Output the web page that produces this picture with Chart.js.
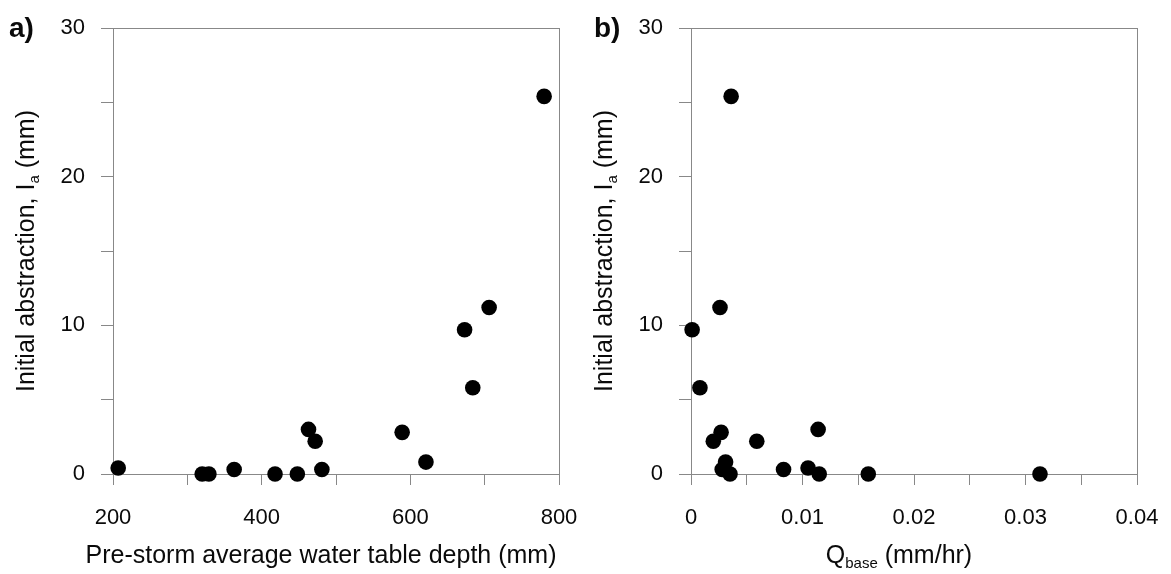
<!DOCTYPE html>
<html>
<head>
<meta charset="utf-8">
<script src="https://cdn.jsdelivr.net/npm/chart.js@4.4.0/dist/chart.umd.min.js"></script>
<style>
  html, body { margin: 0; padding: 0; background: #fff; }
  #wrap { position: relative; width: 1171px; height: 574px; overflow: hidden; }
  canvas { position: absolute; top: 0; }
</style>
</head>
<body>
<div id="wrap">
  <canvas id="ca" width="585" height="574" style="left:0px"></canvas>
  <canvas id="cb" width="586" height="574" style="left:585px"></canvas>
</div>
<script>
// ---- Data (panel a) ----
const depthA = [207, 320, 329, 363, 418, 448, 463, 472, 481, 589, 621, 673, 684, 706, 780];
const iaA    = [0.4, 0,   0,   0.3, 0,   0,   3.0, 2.2, 0.3, 2.8, 0.8, 9.7, 5.8, 11.2, 25.4];
// ---- Data (panel b) ----
const qbaseB = [0.0001, 0.0008, 0.0020, 0.0026, 0.0027, 0.0028, 0.0031, 0.0035, 0.0036, 0.0059, 0.0083, 0.0105, 0.0114, 0.0115, 0.0159, 0.0313];
const iaB    = [9.7,    5.8,    2.2,    11.2,   2.8,    0.3,    0.8,    0,      25.4,   2.2,    0.3,    0.4,    3.0,    0,      0,      0];
// ---- Tick labels ----
const yTickLabels  = [0, 10, 20, 30];
const xTickLabelsA = [200, 400, 600, 800];
const xTickLabelsB = [0, 0.01, 0.02, 0.03, 0.04];

const AXIS = '#888888';
const TXT = '#0a0a0a';
const FONT = '"Liberation Sans", Arial, Helvetica, sans-serif';

function pts(xs, ys) { return xs.map((x, i) => ({ x: x, y: ys[i] })); }
function near(v, list) { return list.some(t => Math.abs(t - v) < 1e-7); }

function drawRich(ctx, parts, cx, cy, rotate) {
  ctx.save();
  ctx.translate(cx, cy);
  if (rotate) ctx.rotate(-Math.PI / 2);
  ctx.textBaseline = 'alphabetic';
  ctx.fillStyle = TXT;
  let total = 0;
  parts.forEach(p => { ctx.font = (p.bold ? 'bold ' : '') + p.size + 'px ' + FONT; p.w = ctx.measureText(p.t).width; total += p.w; });
  let x = -total / 2;
  parts.forEach(p => {
    ctx.font = (p.bold ? 'bold ' : '') + p.size + 'px ' + FONT;
    ctx.textAlign = 'left';
    ctx.fillText(p.t, x, p.dy);
    x += p.w;
  });
  ctx.restore();
}

function makeChart(id, data, xmin, xmax, xstep, xLabels, yAxisWidth, rightPad, letter, xTitleParts, yTitleX) {
  const framePlugin = {
    id: 'frame_' + id,
    beforeDatasetsDraw(chart) {
      const a = chart.chartArea, ctx = chart.ctx;
      ctx.save();
      ctx.strokeStyle = AXIS;
      ctx.lineWidth = 1;
      ctx.strokeRect(Math.round(a.left) + 0.5, Math.round(a.top) + 0.5, Math.round(a.right - a.left), Math.round(a.bottom - a.top));
      ctx.restore();
    },
    afterDraw(chart) {
      const a = chart.chartArea, ctx = chart.ctx;
      const cx = (a.left + a.right) / 2 - 15;
      drawRich(ctx, xTitleParts, cx, 563, false);
      drawRich(ctx, [
        { t: 'Initial abstraction, I', size: 25, dy: 0 },
        { t: 'a', size: 15, dy: 5 },
        { t: ' (mm)', size: 25, dy: 0 }
      ], yTitleX, (a.top + a.bottom) / 2, true);
      ctx.save();
      ctx.font = 'bold 28px ' + FONT;
      ctx.fillStyle = TXT;
      ctx.textAlign = 'left';
      ctx.textBaseline = 'alphabetic';
      ctx.fillText(letter, 9, 37);
      ctx.restore();
    }
  };
  return new Chart(document.getElementById(id), {
    type: 'scatter',
    data: {
      datasets: [{
        data: data,
        backgroundColor: '#000',
        borderColor: '#000',
        borderWidth: 0,
        pointRadius: 7.8,
        pointHoverRadius: 7.8,
        clip: false
      }]
    },
    options: {
      responsive: false,
      animation: false,
      devicePixelRatio: 1,
      layout: { padding: { left: 0, right: rightPad, top: 28, bottom: 0 } },
      plugins: { legend: { display: false }, tooltip: { enabled: false } },
      scales: {
        x: {
          type: 'linear', min: xmin, max: xmax,
          afterFit(s) { s.height = 100; s.paddingLeft = 0; s.paddingRight = 0; },
          grid: { drawOnChartArea: false, drawTicks: true, tickLength: 11, color: AXIS, lineWidth: 1 },
          border: { display: true, color: AXIS, width: 1 },
          ticks: {
            stepSize: xstep, autoSkip: false, maxRotation: 0, padding: 20,
            color: TXT, font: { family: FONT, size: 22 },
            callback: (v) => near(v, xLabels) ? String(Number(Number(v).toFixed(4))) : ''
          }
        },
        y: {
          type: 'linear', min: 0, max: 30,
          afterFit(s) { s.width = yAxisWidth; s.paddingTop = 0; s.paddingBottom = 0; },
          grid: { drawOnChartArea: false, drawTicks: true, tickLength: 12, color: AXIS, lineWidth: 1 },
          border: { display: true, color: AXIS, width: 1 },
          ticks: {
            stepSize: 5, autoSkip: false, padding: 16,
            color: TXT, font: { family: FONT, size: 22 },
            callback: (v) => near(v, yTickLabels) ? String(v) : ''
          }
        }
      }
    },
    plugins: [framePlugin]
  });
}

makeChart('ca', pts(depthA, iaA), 200, 800, 100, xTickLabelsA, 113, 26, 'a)',
  [{ t: 'Pre-storm average water table depth (mm)', size: 25, dy: 0 }], 34);
makeChart('cb', pts(qbaseB, iaB), 0, 0.04, 0.005, xTickLabelsB, 106, 34, 'b)',
  [{ t: 'Q', size: 25, dy: 0 }, { t: 'base', size: 15, dy: 5 }, { t: ' (mm/hr)', size: 25, dy: 0 }], 27);
</script>
</body>
</html>
